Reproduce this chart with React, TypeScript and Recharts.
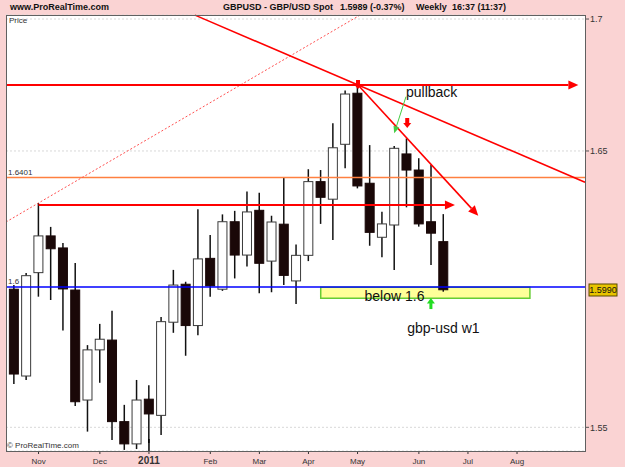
import React from 'react';
import {
  ComposedChart,
  Bar,
  XAxis,
  YAxis,
  CartesianGrid,
  ReferenceLine,
  ReferenceDot,
  ReferenceArea,
} from 'recharts';

// ---- data (weekly GBP/USD candles, Oct 2010 .. Jun 2011) ----
const weeks = [
  0, 1, 2, 3, 4, 5, 6, 7, 8, 9, 10, 11, 12, 13, 14, 15, 16, 17,
  18, 19, 20, 21, 22, 23, 24, 25, 26, 27, 28, 29, 30, 31, 32, 33, 34, 35,
];
const opens = [
  1.5992, 1.5681, 1.6052, 1.6186, 1.6142, 1.5989, 1.5596, 1.5774, 1.5809,
  1.552, 1.5442, 1.5599, 1.5542, 1.5873, 1.601, 1.5861, 1.6104, 1.5992,
  1.6238, 1.6116, 1.628, 1.6094, 1.6229, 1.6022, 1.6115, 1.6386, 1.6321,
  1.6525, 1.6717, 1.638, 1.6181, 1.6226, 1.6489, 1.6429, 1.6238, 1.6165,
];
const highs = [
  1.6007, 1.6051, 1.6307, 1.6219, 1.616, 1.6087, 1.5791, 1.5867, 1.5914,
  1.5579, 1.5667, 1.5648, 1.5892, 1.6062, 1.6019, 1.6284, 1.6189, 1.6265,
  1.6278, 1.6349, 1.6345, 1.626, 1.6402, 1.6155, 1.6432, 1.6429, 1.6604,
  1.6727, 1.6748, 1.6522, 1.6275, 1.6519, 1.6547, 1.6473, 1.6448, 1.6266,
];
const lows = [
  1.5653, 1.5667, 1.5965, 1.5953, 1.5843, 1.5575, 1.5485, 1.5657, 1.5456,
  1.5421, 1.5424, 1.5445, 1.5473, 1.5835, 1.5753, 1.5826, 1.5965, 1.5986,
  1.6031, 1.6074, 1.5977, 1.5981, 1.6007, 1.5939, 1.6094, 1.623, 1.6171,
  1.6436, 1.6361, 1.615, 1.6108, 1.6062, 1.6291, 1.622, 1.608, 1.5983,
];
const closes = [
  1.5688, 1.6041, 1.6186, 1.6139, 1.5993, 1.559, 1.5774, 1.5812, 1.552,
  1.5442, 1.5596, 1.5547, 1.5875, 1.6007, 1.5861, 1.6102, 1.6004, 1.6238,
  1.6116, 1.6274, 1.6086, 1.6237, 1.6042, 1.6115, 1.6386, 1.6328, 1.6512,
  1.6714, 1.637, 1.6199, 1.623, 1.651, 1.6429, 1.623, 1.6196, 1.599,
];

const monthTicks = [2, 7, 11, 16, 20, 24, 28, 33, 37, 41];
const monthLabels = ['Nov', 'Dec', '2011', 'Feb', 'Mar', 'Apr', 'May', 'Jun', 'Jul', 'Aug'];
const priceTicks = [1.55, 1.65, 1.7];

const levelResistance = 1.6748;
const levelMid = 1.63;
const levelOrange = 1.6401;
const levelSupport = 1.6;
const lastPriceTag = '1.5990';

const data = weeks.map((w, k) => ({
  i: w,
  open: opens[k],
  high: highs[k],
  low: lows[k],
  close: closes[k],
  range: [lows[k], highs[k]],
}));

const FONT = '"Liberation Sans", Arial, sans-serif';

const Candle = (props: any) => {
  const { x, y, width, height, payload } = props;
  if (y == null || payload == null) return null;
  const top = Math.min(y, y + height);
  const bot = Math.max(y, y + height);
  const { open, close, high, low } = payload;
  const lh = Math.log(high);
  const ll = Math.log(low);
  const toY = (v: number) =>
    lh === ll ? top : top + ((lh - Math.log(v)) / (lh - ll)) * (bot - top);
  const cx = x + width / 2;
  const up = close >= open;
  const yo = toY(open);
  const yc = toY(close);
  const bTop = Math.min(yo, yc);
  const bH = Math.max(1, Math.abs(yo - yc));
  return (
    <g>
      <line x1={cx} x2={cx} y1={top} y2={bot} stroke="#111" strokeWidth={1.5} />
      <rect
        x={cx - 4.5}
        y={bTop}
        width={9}
        height={bH}
        fill={up ? '#ffffff' : '#1a0808'}
        stroke={up ? '#3a3a3a' : '#1a0808'}
        strokeWidth={1}
      />
    </g>
  );
};

const arrowLine = (color: string, w: number, head: number, half: number, dash?: string) => (p: any) => {
  const x1 = Number(p.x1), y1 = Number(p.y1), x2 = Number(p.x2), y2 = Number(p.y2);
  const ang = Math.atan2(y2 - y1, x2 - x1);
  const bx = x2 - head * Math.cos(ang);
  const by = y2 - head * Math.sin(ang);
  const nx = -Math.sin(ang) * half;
  const ny = Math.cos(ang) * half;
  return (
    <g>
      <line x1={x1} y1={y1} x2={bx} y2={by} stroke={color} strokeWidth={w} strokeDasharray={dash} />
      <polygon points={`${x2},${y2} ${bx + nx},${by + ny} ${bx - nx},${by - ny}`} fill={color} />
    </g>
  );
};

const plainLine = (color: string, w: number, dash?: string) => (p: any) => (
  <line x1={p.x1} y1={p.y1} x2={p.x2} y2={p.y2} stroke={color} strokeWidth={w} strokeDasharray={dash} />
);

const orangeShape = (p: any) => {
  const xl = Math.min(Number(p.x1), Number(p.x2));
  const xr = Math.max(Number(p.x1), Number(p.x2));
  const yy = Number(p.y1);
  return (
    <g>
      <line x1={xl} y1={yy} x2={xr} y2={yy} stroke="#FF8040" strokeWidth={1.5} />
      <text x={xl + 2} y={yy - 2.5} fontSize={8} fill="#333" fontFamily={FONT}>
        {levelOrange.toFixed(4)}
      </text>
    </g>
  );
};

const blueShape = (p: any) => {
  const xl = Math.min(Number(p.x1), Number(p.x2));
  const xr = Math.max(Number(p.x1), Number(p.x2));
  const yy = Number(p.y1);
  return (
    <g>
      <line x1={xl} y1={yy} x2={xr} y2={yy} stroke="#0000FF" strokeWidth={1.5} />
      <text x={xl + 2} y={yy - 2.5} fontSize={8} fill="#333" fontFamily={FONT}>
        {levelSupport.toFixed(1)}
      </text>
      <rect x={xr + 4} y={yy - 3} width={28} height={12} fill="#E8C400" stroke="#5a4a00" strokeWidth={1} />
      <text x={xr + 18} y={yy + 6.5} fontSize={9} fill="#111" textAnchor="middle" fontFamily={FONT}>
        {lastPriceTag}
      </text>
    </g>
  );
};

const downArrow = (color: string, size: number) => (p: any) => {
  const cx = Number(p.cx), cy = Number(p.cy);
  const headH = size * 0.5;
  return (
    <g>
      <rect x={cx - 2} y={cy - size} width={4} height={size - headH + 0.5} fill={color} />
      <polygon points={`${cx},${cy} ${cx - 4},${cy - headH} ${cx + 4},${cy - headH}`} fill={color} />
    </g>
  );
};

const upArrow = (color: string, size: number) => (p: any) => {
  const cx = Number(p.cx), cy = Number(p.cy);
  const headH = size * 0.5;
  return (
    <g>
      <rect x={cx - 1.5} y={cy + headH - 0.5} width={3} height={size - headH + 0.5} fill={color} />
      <polygon points={`${cx},${cy} ${cx - 4},${cy + headH} ${cx + 4},${cy + headH}`} fill={color} />
    </g>
  );
};

const textShape = (label: string, anchor: 'start' | 'middle') => (p: any) => (
  <text
    x={p.cx}
    y={Number(p.cy) + 5}
    fontSize={14}
    fill="#111"
    textAnchor={anchor}
    fontFamily={FONT}
  >
    {label}
  </text>
);

const XTick = (p: any) => {
  const idx = monthTicks.indexOf(p.payload.value);
  const lab = monthLabels[idx] ?? '';
  const bold = lab === '2011';
  return (
    <g>
      {bold && <line x1={p.x} x2={p.x} y1={p.y - 17} y2={p.y - 5} stroke="#000" strokeWidth={1.5} />}
      <text
        x={p.x}
        y={p.y + 8}
        textAnchor="middle"
        fontSize={bold ? 10 : 8}
        fontWeight={bold ? 'bold' : 'normal'}
        fill="#333"
        fontFamily={FONT}
      >
        {lab}
      </text>
    </g>
  );
};

export default function App() {
  return (
    <div
      style={{
        position: 'absolute',
        left: 0,
        top: 0,
        width: 625,
        height: 467,
        background: '#FAD3D3',
        fontFamily: FONT,
        overflow: 'hidden',
      }}
    >
      <div style={{ position: 'absolute', left: 10, top: 1, fontSize: 9, fontWeight: 'bold', lineHeight: '13px', color: '#111' }}>
        www.ProRealTime.com
      </div>
      <div style={{ position: 'absolute', left: 223, top: 1, fontSize: 9, fontWeight: 'bold', lineHeight: '13px', color: '#111', whiteSpace: 'pre' }}>
        GBPUSD - GBP/USD Spot
      </div>
      <div style={{ position: 'absolute', left: 340, top: 1, fontSize: 9, fontWeight: 'bold', lineHeight: '13px', color: '#111', whiteSpace: 'pre' }}>
        1.5989 (-0.37%)
      </div>
      <div style={{ position: 'absolute', left: 416, top: 1, fontSize: 9, fontWeight: 'bold', lineHeight: '13px', color: '#111', whiteSpace: 'pre' }}>
        Weekly
      </div>
      <div style={{ position: 'absolute', left: 452, top: 1, fontSize: 9, fontWeight: 'bold', lineHeight: '13px', color: '#111', whiteSpace: 'pre' }}>
        16:37 (11:37)
      </div>

      <div style={{ position: 'absolute', left: 0, top: 0 }}>
        <ComposedChart
          width={625}
          height={467}
          data={data}
          margin={{ top: 15, right: 0, bottom: 0, left: 6 }}
        >
          <CartesianGrid
            horizontal
            vertical={false}
            fill="#ffffff"
            stroke="#d8d8d8"
            strokeDasharray="2 2"
          />
          <XAxis
            dataKey="i"
            type="number"
            domain={[-0.652, 46.54]}
            allowDataOverflow
            ticks={monthTicks}
            interval={0}
            height={16}
            axisLine={false}
            tickSize={3}
            tickLine={{ stroke: '#333' }}
            tick={<XTick />}
          />
          <YAxis
            orientation="right"
            type="number"
            scale="log"
            domain={[1.54172, 1.70155]}
            allowDataOverflow
            ticks={priceTicks}
            interval={0}
            width={40}
            axisLine={false}
            tickSize={4}
            tickMargin={1}
            tickLine={{ stroke: '#555' }}
            tick={{ fontSize: 9, fill: '#333', fontFamily: FONT }}
            tickFormatter={(v: number) => String(v)}
          />
          <Bar dataKey="range" barSize={10} isAnimationActive={false} shape={Candle} />

          <ReferenceArea
            x1={25.0}
            x2={42.05}
            y1={1.5959}
            y2={1.5999}
            fill="#FFFF99"
            fillOpacity={1}
            stroke="#66CC33"
            strokeWidth={1.5}
            ifOverflow="visible"
          />

          <ReferenceLine y={levelOrange} ifOverflow="visible" shape={orangeShape} />
          <ReferenceLine y={levelSupport} ifOverflow="visible" shape={blueShape} />
          <ReferenceLine
            segment={[{ x: -0.652, y: 1.6237 }, { x: 28.2, y: 1.7015 }]}
            ifOverflow="visible"
            shape={plainLine('#FF5050', 1, '2 2')}
          />
          <ReferenceLine
            segment={[{ x: -0.652, y: levelResistance }, { x: 46.0, y: levelResistance }]}
            ifOverflow="visible"
            shape={arrowLine('#FF0000', 2, 10, 4.5)}
          />
          <ReferenceLine
            segment={[{ x: 2, y: levelMid }, { x: 35.94, y: levelMid }]}
            ifOverflow="visible"
            shape={arrowLine('#FF0000', 2, 10, 4.5)}
          />
          <ReferenceLine
            segment={[{ x: 14.75, y: 1.7015 }, { x: 46.54, y: 1.6384 }]}
            ifOverflow="visible"
            shape={plainLine('#FF0000', 1.6)}
          />
          <ReferenceLine
            segment={[{ x: 28.04, y: levelResistance }, { x: 37.84, y: 1.626 }]}
            ifOverflow="visible"
            shape={arrowLine('#FF0000', 1.6, 10, 4.5)}
          />
          <ReferenceLine
            segment={[{ x: 31.95, y: 1.6704 }, { x: 30.99, y: 1.6566 }]}
            ifOverflow="visible"
            shape={arrowLine('#44CC44', 1, 7, 3)}
          />

          <ReferenceDot x={28.04} y={1.6733} r={1} ifOverflow="visible" shape={downArrow('#FF0000', 9)} />
          <ReferenceDot x={32.05} y={1.6586} r={1} ifOverflow="visible" shape={downArrow('#FF0000', 10)} />
          <ReferenceDot x={33.98} y={1.596} r={1} ifOverflow="visible" shape={upArrow('#22DD22', 11)} />
          <ReferenceDot x={31.95} y={1.6723} r={1} ifOverflow="visible" shape={textShape('pullback', 'start')} />
          <ReferenceDot x={31.01} y={1.5967} r={1} ifOverflow="visible" shape={textShape('below 1.6', 'middle')} />
          <ReferenceDot x={32.05} y={1.5853} r={1} ifOverflow="visible" shape={textShape('gbp-usd w1', 'start')} />
        </ComposedChart>
      </div>

      <div
        style={{
          position: 'absolute',
          left: 6,
          top: 15,
          width: 580,
          height: 437,
          boxSizing: 'border-box',
          border: '1px solid #606060',
          pointerEvents: 'none',
        }}
      />
      <div style={{ position: 'absolute', left: 9, top: 16, fontSize: 8, color: '#333', lineHeight: '10px' }}>Price</div>
      <div style={{ position: 'absolute', left: 7, top: 441, fontSize: 8, color: '#333', lineHeight: '10px' }}>
        © ProRealTime.com
      </div>
    </div>
  );
}
